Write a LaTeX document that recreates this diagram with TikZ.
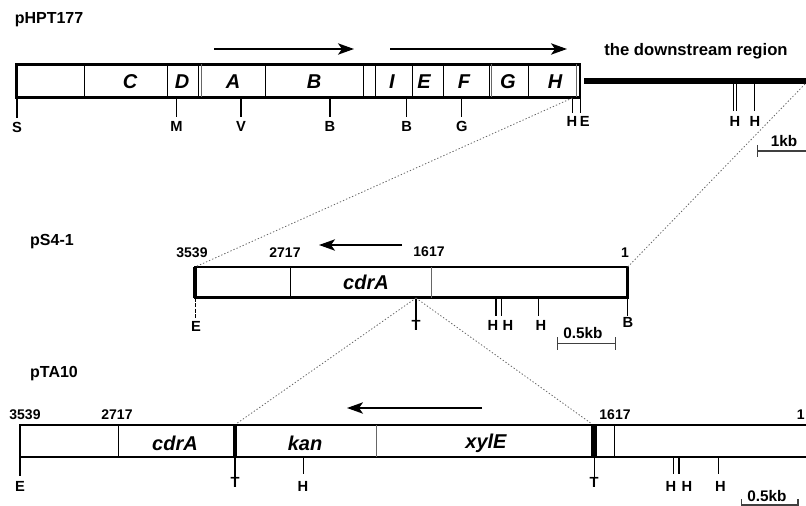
\documentclass[tikz,border=0pt]{standalone}
\usepackage{fontspec}
\setmainfont{Liberation Sans}
\usetikzlibrary{arrows.meta}
\begin{document}
\begin{tikzpicture}[x=0.75pt,y=-0.75pt,
  box/.style={line width=1.7pt},
  divider/.style={line width=0.7pt},
  greydiv/.style={line width=0.7pt, black!60},
  tick/.style={line width=1.1pt},
  zoomline/.style={black!60, line width=0.6pt, dash pattern=on 1pt off 1.5pt},
  dirarrow/.style={line width=1.1pt, -{Stealth[length=12pt,width=8.5pt,inset=3pt]}},
  plasmid/.style={font=\fontsize{12}{13}\selectfont\bfseries, inner sep=0pt},
  region/.style={font=\fontsize{12.5}{13}\selectfont\bfseries, inner sep=0pt},
  gene/.style={font=\fontsize{15}{16}\selectfont\bfseries\itshape, inner sep=0pt},
  site/.style={font=\fontsize{11}{12}\selectfont\bfseries, inner sep=0pt},
  posn/.style={font=\fontsize{10.5}{11}\selectfont\bfseries, inner sep=0pt},
  scalelbl/.style={font=\fontsize{11.5}{12}\selectfont\bfseries, inner sep=0pt},
  scalebar/.style={line width=0.9pt, black!75},
]
\useasboundingbox (0,0) rectangle (806,506);

% ---------------- pHPT177 ----------------
\node[plasmid] (nHPT) at (49,20) {pHPT177};
\draw[box] (16.5,64.5) rectangle (580,97.5);
\foreach \x in {84.3,167.3,198.3,265.7,363.3,375.7,412.3,443.3,489,528.3}
  \draw[divider] (\x,64.5) -- (\x,97.5);
\foreach \x in {201,491.3,576.5}
  \draw[greydiv] (\x,64.5) -- (\x,97.5);
\coordinate (dsL) at (584,81);
\coordinate (dsR) at (806,81);
\draw[line width=4.5pt] (dsL) -- (dsR);
\foreach \g/\x in {C/130,D/182,A/233,B/314,I/392,E/424,F/464,G/508,H/555}
  \node[gene] (g\g) at (\x,82) {\g};
\coordinate (a1s) at (214,49); \coordinate (a1e) at (354,49);
\coordinate (a2s) at (390,49); \coordinate (a2e) at (567,49);
\draw[dirarrow] (a1s) -- (a1e);
\draw[dirarrow] (a2s) -- (a2e);
\node[region] (down) at (696,51) {the downstream region};

% sites under pHPT177
\foreach \n/\l/\x/\yb/\yl in {s1/S/17/118/127, s2/M/176.5/117/126, s3/V/241/117/126,
    s4/B/330/117/126, s5/B/406.7/117/126, s6/G/461.7/117/126}{
  \coordinate (t\n) at (\x,98);
  \draw[tick] (t\n) -- (\x,\yb);
  \node[site] (\n) at (\x,\yl) {\l};
}
\coordinate (tH1) at (572.3,98);
\draw[tick] (tH1) -- (572.3,113);
\node[site] (sH1) at (572,121) {H};
\coordinate (tE1) at (580.7,98);
\draw[tick] (tE1) -- (580.7,113);
\node[site,anchor=west] (sE1) at (579.7,121) {E};
\foreach \n/\x in {d1/733.8,d2/736.6,d3/754.3}{
  \coordinate (t\n) at (\x,84);
  \draw[line width=0.8pt] (t\n) -- (\x,111);
}
\node[site] (sD1) at (735,121) {H};
\node[site] (sD2) at (755,121) {H};
% 1 kb scale
\node[scalelbl] (kb1) at (784,141) {1kb};
\coordinate (kbL) at (757.7,151);
\draw[scalebar] (kbL) -- (806,151);
\draw[scalebar] (757.7,145) -- (757.7,157);

% ---------------- pS4-1 ----------------
\node[plasmid] (nS4) at (52,242) {pS4-1};
\coordinate (s4TL) at (195,267);
\coordinate (s4TR) at (627.7,267);
\draw[box] (195,267) rectangle (627.7,297.5);
\draw[line width=2.6pt] (195,267) -- (195,297.5);
\draw[line width=2.6pt] (627.7,267) -- (627.7,297.5);
\draw[divider] (290.3,267) -- (290.3,297.5);
\draw[greydiv] (431.7,267) -- (431.7,297.5);
\node[gene] (cdr1) at (366,282) {cdrA};
\node[posn] (n3539a) at (192,253) {3539};
\node[posn] (n2717a) at (285,253) {2717};
\node[posn] (n1617a) at (429,252) {1617};
\node[posn] (n1a) at (625,253) {1};
\coordinate (a3s) at (402,245); \coordinate (a3e) at (319,245);
\draw[dirarrow] (a3s) -- (a3e);
% sites
\coordinate (tE2) at (195.5,298);
\draw[line width=1pt, dash pattern=on 3pt off 1pt] (tE2) -- (195.5,318);
\node[site] (sE2) at (196,326) {E};
\coordinate (tT2) at (416,298);
\draw[tick] (tT2) -- (416,320);
\node[site] (sT2) at (416,325) {T};
\foreach \n/\x in {h1/496,h2/501.7,h3/538.7}{
  \coordinate (t\n) at (\x,298);
  \draw[tick] (t\n) -- (\x,316);
}
\node[site] (sh1) at (493,325) {H};
\node[site] (sh2) at (508,325) {H};
\node[site] (sh3) at (541,325) {H};
\coordinate (tB2) at (627.7,298);
\draw[tick] (tB2) -- (627.7,316);
\node[site] (sB2) at (628,322) {B};
% 0.5 kb scale
\node[scalelbl] (kb2) at (583,333) {0.5kb};
\draw[scalebar] (557.7,343.3) -- (615.7,343.3);
\draw[scalebar] (557.7,337) -- (557.7,350);
\draw[scalebar] (615.7,337) -- (615.7,350);

% zoom lines pHPT177 -> pS4-1
\draw[zoomline] (tH1) -- (s4TL);
\draw[zoomline] (805,84) -- (s4TR);

% ---------------- pTA10 ----------------
\node[plasmid] (nTA) at (54,374) {pTA10};
\coordinate (taL) at (20,425);
\draw[box] (806,425) -- (20,425) -- (20,457) -- (806,457);
\draw[divider] (118.3,425) -- (118.3,457);
\draw[line width=3pt] (235,425) -- (235,457);
\draw[greydiv] (376.7,425) -- (376.7,457);
\draw[line width=4pt] (594,425) -- (594,457);
\draw[divider] (614.3,425) -- (614.3,457);
\coordinate (taT1) at (236,424);
\coordinate (taT2) at (592,424);
\node[gene] (cdr2) at (175,443) {cdrA};
\node[gene] (kan) at (305,443) {kan};
\node[gene] (xyl) at (486,443) {xylE};
\node[posn] (n3539b) at (25,415) {3539};
\node[posn] (n2717b) at (117,415) {2717};
\node[posn] (n1617b) at (615,415) {1617};
\node[posn,anchor=east] (n1b) at (805,415) {1};
\coordinate (a4s) at (482,408); \coordinate (a4e) at (347,408);
\draw[dirarrow] (a4s) -- (a4e);
% sites
\coordinate (tE3) at (20,457);
\draw[tick] (tE3) -- (20,476);
\node[site] (sE3) at (20,486) {E};
\coordinate (tT3) at (235,457);
\draw[tick] (tT3) -- (235,480);
\node[site] (sT3) at (235,482) {T};
\coordinate (tH3) at (303.3,457);
\draw[tick] (tH3) -- (303.3,474);
\node[site] (sH3) at (303,486) {H};
\coordinate (tT4) at (594.3,457);
\draw[tick] (tT4) -- (594.3,480);
\node[site] (sT4) at (594,482) {T};
\foreach \n/\x in {k1/673.3,k2/679,k3/718.3}{
  \coordinate (t\n) at (\x,457);
  \draw[tick] (t\n) -- (\x,474);
}
\node[site] (sk1) at (671,486) {H};
\node[site] (sk2) at (687,486) {H};
\node[site] (sk3) at (720.5,486) {H};
% 0.5 kb scale
\node[scalelbl] (kb3) at (767,496) {0.5kb};
\draw[scalebar] (741.7,499) -- (741.7,505) -- (798,505) -- (798,499);

% zoom lines pS4-1 -> pTA10
\draw[zoomline] (tT2) -- (taT1);
\draw[zoomline] (tT2) -- (taT2);
\end{tikzpicture}
\end{document}
